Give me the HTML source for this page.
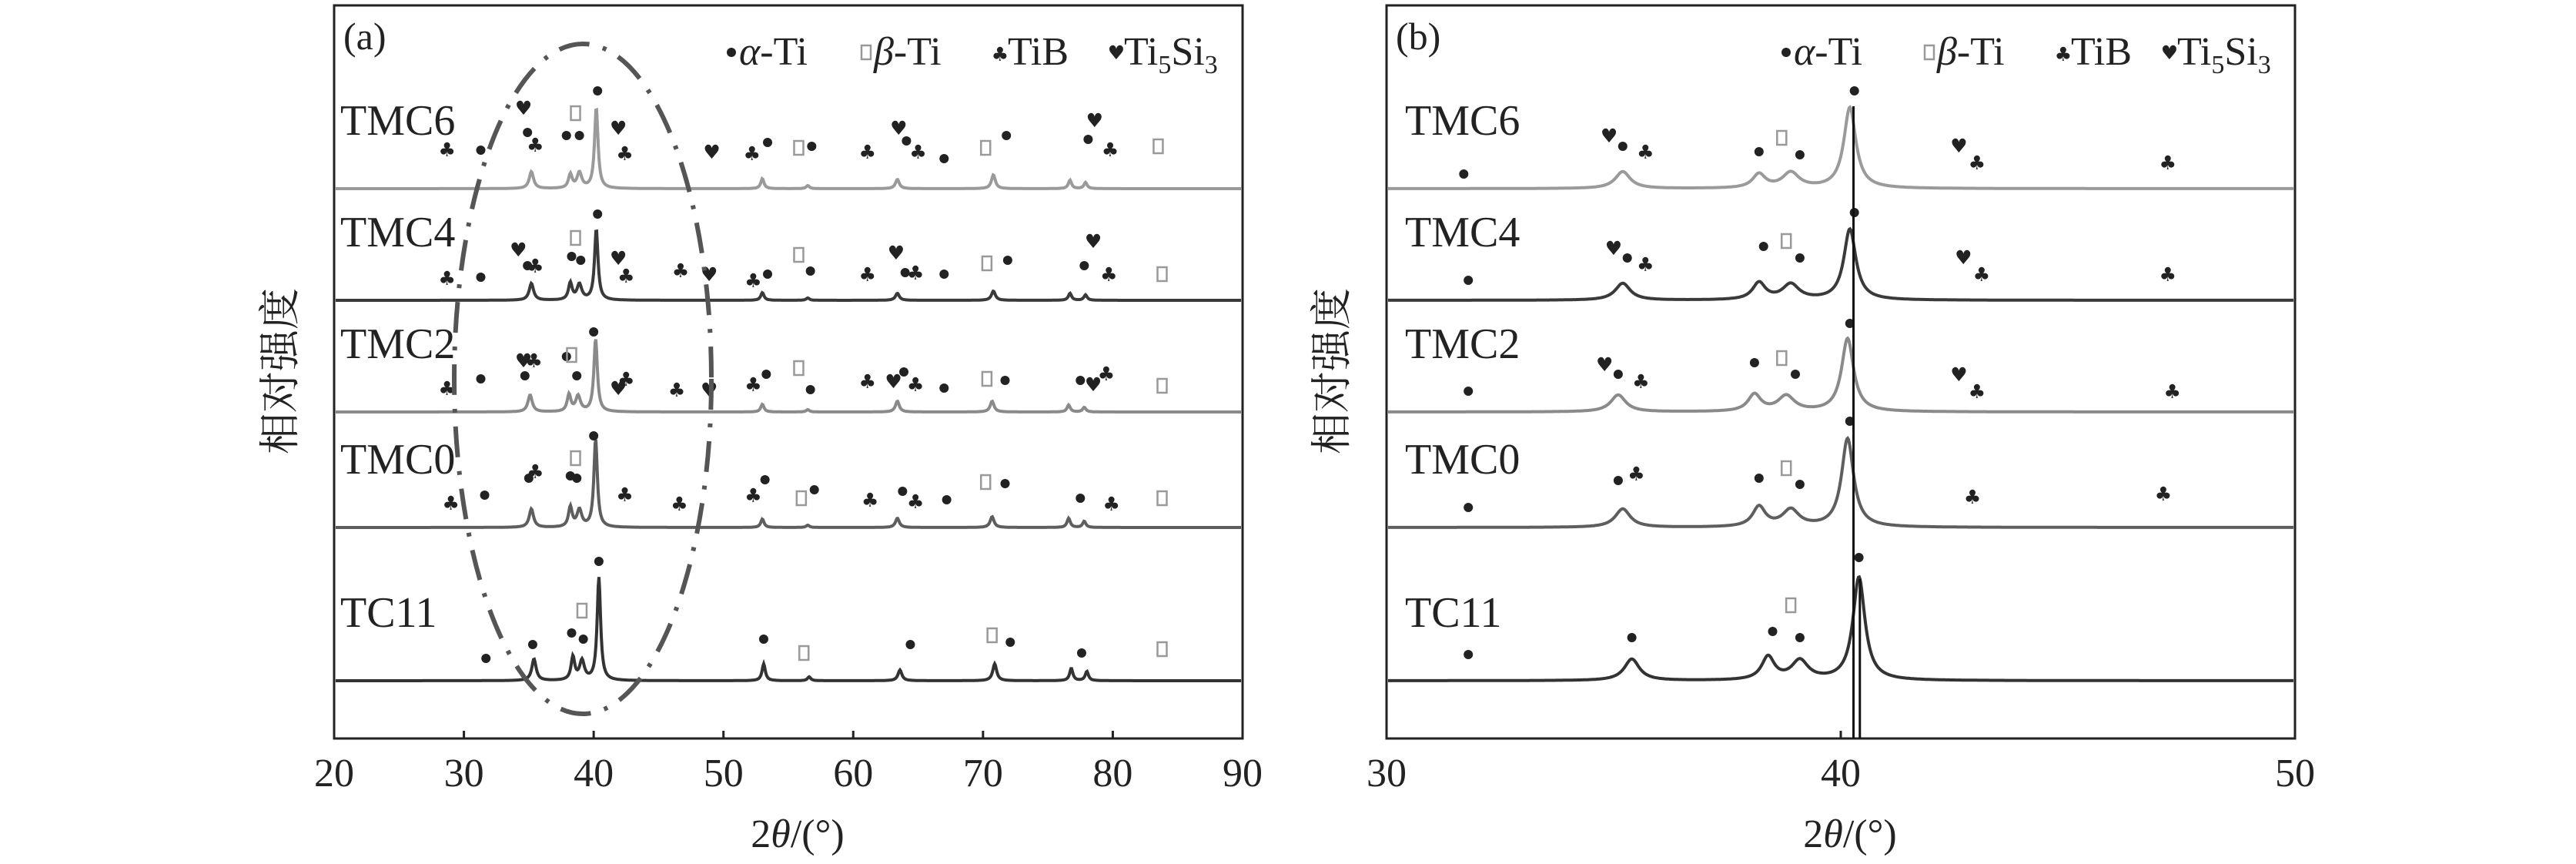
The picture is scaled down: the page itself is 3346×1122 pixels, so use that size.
<!DOCTYPE html>
<html><head><meta charset="utf-8"><style>
html,body{margin:0;padding:0;background:#fff;}
svg{display:block;font-family:"Liberation Serif","Noto Serif CJK SC",serif;}
</style></head><body>
<svg id="chart" width="3346" height="1122" viewBox="0 0 3346 1122" xmlns="http://www.w3.org/2000/svg">
<rect width="3346" height="1122" fill="#fff"/>
<g id="pa"></g>
<g id="pb"></g>
</svg>
<script>
// ---- data ----
const samples = ["TMC6","TMC4","TMC2","TMC0","TC11"];
const sampleColors = ["#9a9a9a","#3a3a3a","#8a8a8a","#5e5e5e","#333333"];
const peakPos = {
  TMC6:[35.2,38.2,38.9,40.2,53.0,56.5,63.4,70.8,76.7,77.9],
  TMC4:[35.2,38.2,38.9,40.2,53.0,56.5,63.4,70.8,76.7,77.9],
  TMC2:[35.1,38.1,38.8,40.15,53.0,56.5,63.4,70.7,76.6,77.8],
  TMC0:[35.2,38.2,38.9,40.15,53.0,56.5,63.4,70.7,76.6,77.8],
  TC11:[35.4,38.4,39.1,40.4,53.1,56.6,63.6,70.9,76.8,78.0]
};
const peakHeights = {
  TMC6:[22,18,20,105,13,4,12,18,11,8],
  TMC4:[22,22,20,92,10,3,9,12,9,7],
  TMC2:[22,22,20,95,10,3,14,14,9,6],
  TMC0:[24,26,22,115,11,3,12,14,12,8],
  TC11:[28,30,25,134,22,5,14,22,16,12]
};
const peakWidths = [0.2,0.17,0.22,0.16,0.15,0.15,0.18,0.18,0.15,0.15];
// markers: [2theta, phase, offset above baseline]  a=alpha b=beta t=TiB s=Ti5Si3
const markersA = {
  TMC6:[[28.7,"t",51],[31.3,"a",50],[34.6,"s",105],[34.9,"a",73],[35.5,"t",57],[37.9,"a",69],[38.6,"b",98],[38.9,"a",69],[40.3,"a",127],[41.9,"s",79],[42.4,"t",46],[49.1,"s",48],[52.2,"t",46],[53.4,"a",60],[55.8,"b",53],[56.8,"a",55],[61.1,"t",48],[63.5,"s",79],[64.1,"a",62],[65.0,"t",48],[67.0,"a",39],[70.2,"b",53],[71.8,"a",69],[78.1,"a",64],[78.6,"s",89],[79.8,"t",51],[83.5,"b",55]],
  TMC4:[[28.7,"t",29],[31.3,"a",30],[34.2,"s",66],[34.9,"a",45],[35.5,"t",45],[38.3,"a",57],[38.6,"b",81],[39.0,"a",52],[40.3,"a",112],[41.9,"s",55],[42.5,"t",32],[46.7,"t",39],[48.9,"s",34],[52.3,"t",26],[53.4,"a",34],[55.8,"b",59],[56.7,"a",38],[61.1,"t",34],[63.3,"s",62],[64.0,"a",36],[64.8,"t",36],[67.0,"a",34],[70.3,"b",48],[71.9,"a",52],[77.8,"a",45],[78.5,"s",77],[79.7,"t",34],[83.8,"b",34]],
  TMC2:[[28.7,"t",31],[31.3,"a",43],[34.6,"s",67],[35.4,"t",67],[34.7,"a",47],[37.9,"a",72],[38.3,"b",74],[38.7,"a",47],[40.0,"a",104],[42.5,"t",43],[41.9,"s",31],[46.4,"t",29],[48.9,"s",29],[52.3,"t",36],[53.3,"a",49],[55.8,"b",57],[56.7,"a",29],[61.1,"t",40],[63.1,"s",40],[63.9,"a",52],[64.8,"t",36],[67.0,"a",31],[70.3,"b",43],[71.7,"a",41],[77.5,"a",41],[78.5,"s",36],[79.5,"t",50],[83.8,"b",34]],
  TMC0:[[29.0,"t",32],[31.6,"a",42],[35.0,"a",64],[35.5,"t",73],[38.2,"a",67],[38.6,"b",90],[38.7,"a",64],[40.0,"a",119],[42.4,"t",43],[46.6,"t",31],[52.3,"t",42],[53.2,"a",62],[56.0,"b",38],[57.0,"a",49],[61.3,"t",36],[63.8,"a",47],[64.8,"t",34],[67.2,"a",36],[70.2,"b",59],[71.7,"a",57],[77.5,"a",38],[79.9,"t",31],[83.8,"b",38]],
  TC11:[[31.7,"a",29],[35.3,"a",47],[38.3,"a",62],[39.1,"b",91],[39.2,"a",54],[40.4,"a",155],[53.1,"a",54],[56.2,"b",36],[64.4,"a",47],[70.7,"b",59],[72.1,"a",50],[77.6,"a",36],[83.8,"b",41]]
};
const markersB = {
  TMC6:[[31.7,"a",19],[34.9,"s",69],[35.2,"a",55],[35.7,"t",48],[38.2,"a",48],[38.7,"b",66],[39.1,"a",44],[40.3,"a",127],[42.6,"s",56],[43.0,"t",34],[47.2,"t",34]],
  TMC4:[[31.8,"a",26],[35.0,"s",68],[35.3,"a",55],[35.7,"t",47],[38.3,"a",70],[38.8,"b",77],[39.1,"a",55],[40.3,"a",114],[42.7,"s",56],[43.1,"t",34],[47.2,"t",34]],
  TMC2:[[31.8,"a",27],[34.8,"s",62],[35.1,"a",49],[35.6,"t",40],[38.1,"a",64],[38.7,"b",70],[39.0,"a",49],[40.2,"a",115],[42.6,"s",49],[43.0,"t",27],[47.3,"t",27]],
  TMC0:[[31.8,"a",26],[35.1,"a",61],[35.5,"t",70],[38.2,"a",64],[38.8,"b",77],[39.1,"a",56],[40.2,"a",138],[42.9,"t",40],[47.1,"t",44]],
  TC11:[[31.8,"a",34],[35.4,"a",56],[38.5,"a",64],[38.9,"b",98],[39.1,"a",56],[40.4,"a",160]]
};
const ticksA = [20,30,40,50,60,70,80,90];
const ticksB = [30,40,50];
const baselines = [245,390,535,685,884];

const NS="http://www.w3.org/2000/svg";
function mk(parent,tag,attrs,text){const e=document.createElementNS(NS,tag);for(const k in attrs)e.setAttribute(k,attrs[k]);if(text!==undefined)e.textContent=text;parent.appendChild(e);return e;}

function drawPanel(g,cfg){
  const {L,R,T,B,xmin,xmax,ticks,markers,lab,labX,legX,sampleX,yLabX}=cfg;
  const X=v=>L+(v-xmin)/(xmax-xmin)*(R-L);
  const pxPerDeg=(R-L)/(xmax-xmin);
  samples.forEach((s,si)=>{
    const base=baselines[si];
    let d="";
    for(let px=L+2;px<=R-2;px+=1){
      const th=xmin+(px-L)/pxPerDeg;
      let y=0;
      peakPos[s].forEach((p,k)=>{const w=peakWidths[k];const u=(th-p)/w;y+=peakHeights[s][k]/(1+u*u);});
      d+=(d?"L":"M")+px+","+(base-y).toFixed(1);
    }
    const p=mk(g,"path",{d:d,fill:"none",stroke:sampleColors[si],"stroke-width":4});
    
    
    const t=mk(g,"text",{x:sampleX,y:baselines[si]-70,"font-size":56,fill:"#222"},s);
    
    
    markers[s].forEach(m=>{
      if(m[0]<xmin||m[0]>xmax)return;
      drawMarker(g,m[1],X(m[0]),base-m[2]);
    });
  });
  const f=mk(g,"rect",{x:L,y:T,width:R-L,height:B-T,fill:"none",stroke:"#222","stroke-width":3});
  
  
  ticks.forEach(v=>{
    mk(g,"line",{x1:X(v),x2:X(v),y1:B,y2:B-10,stroke:"#222","stroke-width":3});
    const t=mk(g,"text",{x:X(v),y:B+62,"font-size":52,"text-anchor":"middle",fill:"#222"},v);
    
    
  });
  const xl=mk(g,"text",{x:(L+R)/2+12,y:1100,"font-size":52,"text-anchor":"middle",fill:"#222"});
  
  
  xl.innerHTML='2<tspan font-style="italic">θ</tspan>/(°)';
  const yl=mk(g,"text",{x:0,y:0,"font-size":54,"text-anchor":"middle",fill:"#222",transform:`translate(${yLabX},482) rotate(-90)`,"font-family":"'Noto Serif CJK SC','Noto Sans CJK SC',serif"},"相对强度");
  
  
  const pl=mk(g,"text",{x:L+12,y:64,"font-size":50,fill:"#222"},lab);
  
  
  const lg=mk(g,"g",{});
  
  
  const ly=84;
  drawMarker(lg,"a",legX[0],ly-16);
  mk(lg,"text",{x:legX[0]+10,y:ly,"font-size":52,fill:"#222"}).innerHTML='<tspan font-style="italic">α</tspan>-Ti';
  drawMarker(lg,"b",legX[1],ly-16);
  mk(lg,"text",{x:legX[1]+10,y:ly,"font-size":52,fill:"#222"}).innerHTML='<tspan font-style="italic">β</tspan>-Ti';
  drawMarker(lg,"t",legX[2],ly-14);
  mk(lg,"text",{x:legX[2]+10,y:ly,"font-size":52,fill:"#222"},"TiB");
  drawMarker(lg,"s",legX[3],ly-16);
  mk(lg,"text",{x:legX[3]+10,y:ly,"font-size":52,fill:"#222"}).innerHTML='Ti<tspan font-size="34" dy="11">5</tspan><tspan dy="-11">Si</tspan><tspan font-size="34" dy="11">3</tspan>';
  return X;
}
function drawMarker(g,type,x,y){
  let e;
  if(type==="a"){e=mk(g,"circle",{cx:x,cy:y,r:6,fill:"#222"});}
  else if(type==="b"){e=mk(g,"rect",{x:x-6,y:y-9,width:12,height:18,fill:"none",stroke:"#999","stroke-width":2.5});}
  else if(type==="t"){e=mk(g,"text",{x:x,y:y+9,"font-size":25,"text-anchor":"middle",fill:"#222","font-family":"'DejaVu Sans',sans-serif"},"♣");}
  else {e=mk(g,"text",{x:x,y:y+9,"font-size":25,"text-anchor":"middle",fill:"#222","font-family":"'DejaVu Sans',sans-serif"},"♥");}
  
  
}
const ga=document.getElementById("pa"), gb=document.getElementById("pb");
drawPanel(ga,{L:434,R:1614,T:7,B:959,xmin:20,xmax:90,ticks:ticksA,markers:markersA,lab:"(a)",legX:[950,1125,1299,1450],sampleX:442,yLabX:382});
const ell=mk(ga,"ellipse",{cx:757,cy:492,rx:167,ry:435,fill:"none",stroke:"#555","stroke-width":6,"stroke-dasharray":"40,18,5,18"});


const XB=drawPanel(gb,{L:1801,R:2981,T:7,B:959,xmin:30,xmax:50,ticks:ticksB,markers:markersB,lab:"(b)",legX:[2320,2506,2680,2818],sampleX:1825,yLabX:1748});
const vl=mk(gb,"line",{x1:XB(40.28),x2:XB(40.28),y1:138,y2:959,stroke:"#111","stroke-width":3});


const vl2=mk(gb,"line",{x1:XB(40.42),x2:XB(40.42),y1:752,y2:959,stroke:"#111","stroke-width":3});


</script>
</body></html>
